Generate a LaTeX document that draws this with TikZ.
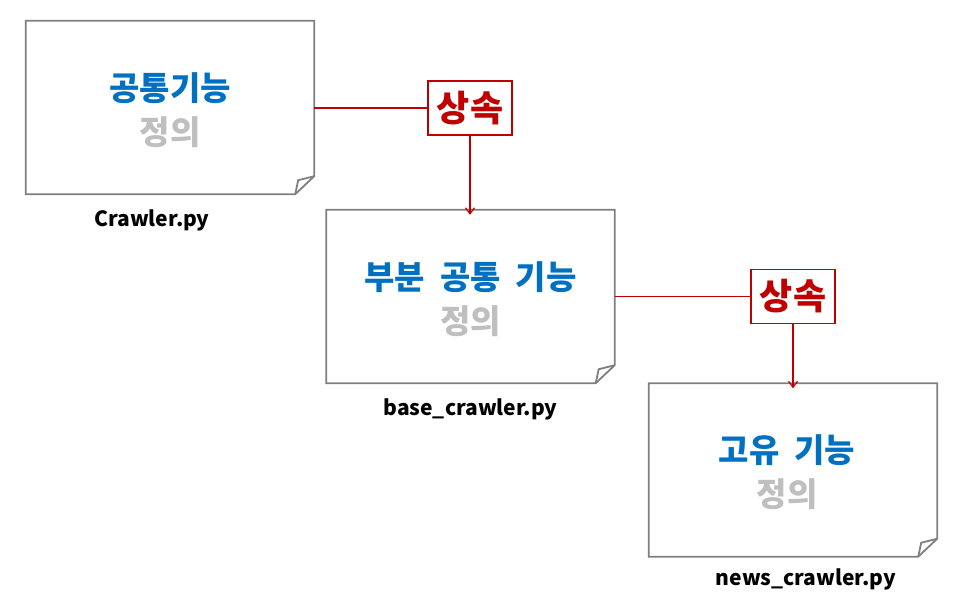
\documentclass[tikz,border=0pt]{standalone}
\usepackage{fontspec}
\setmainfont{Noto Sans CJK KR}
\usetikzlibrary{positioning,calc,arrows.meta}
\definecolor{cblue}{HTML}{0070C0}
\definecolor{cgray}{HTML}{BFBFBF}
\definecolor{cred}{HTML}{C00000}
\definecolor{cline}{HTML}{7F7F7F}

\begin{document}
\begin{tikzpicture}[x=1pt,y=-1pt,>={Straight Barb[length=6pt,width=9pt]},
  note/.style={minimum width=288pt,minimum height=173pt,inner sep=0pt,align=center,
    font=\fontsize{33}{44}\selectfont\bfseries},
  inherit/.style={draw=cred,line width=1.8pt,fill=white,minimum width=84pt,minimum height=54pt,
    inner sep=0pt,text=cred,font=\fontsize{36}{40}\selectfont\bfseries},
  fname/.style={font=\fontsize{21}{24}\selectfont\bfseries,inner sep=0pt},
  link/.style={cred,line width=1.2pt}]
  \useasboundingbox (0,0) rectangle (960,600);
  % notes
  \node[note] (crawler) at (170,110) {\textcolor{cblue}{공통기능}\\\textcolor{cgray}{정의}};
  \node[note] (base) at (470.5,299) {\textcolor{cblue}{부분\ \ 공통\ \ 기능}\\\textcolor{cgray}{정의}};
  \node[note] (news) at (793,472.5) {\textcolor{cblue}{고유\ \ 기능}\hspace*{12pt}\\\textcolor{cgray}{정의}\hspace*{12pt}};
  \foreach \n in {crawler,base,news} {
    \draw[cline,line width=1.8pt,line join=miter]
      ($(\n.north west)+(0,-2.5)$) -- ($(\n.north east)+(0,-2.5)$) -- ($(\n.south east)+(0,-20.5)$)
      -- ($(\n.south east)+(-19,-2.5)$) -- ($(\n.south west)+(0,-2.5)$) -- cycle;
    \draw[cline,line width=1.8pt]
      ($(\n.south east)+(0,-20.5)$) -- ($(\n.south east)+(-16,-16.5)$) -- ($(\n.south east)+(-19,-2.5)$);
  }
  % file names
  \node[fname,below=13pt of crawler.south,xshift=-18pt] (crawlerpy) {Crawler.py};
  \node[fname,below=13pt of base.south] (basepy) {base\_crawler.py};
  \node[fname,below=9pt of news.south,xshift=13pt] (newspy) {news\_crawler.py};
  % inheritance
  \node[inherit] (inh1) at (470,108) {상속};
  \node[inherit] (inh2) at (793,296.5) {상속};
  \draw[link] (crawler.east |- inh1) -- (inh1.west);
  \draw[link,->] (inh1.south) -- ($(inh1.south |- base.north)+(0,2.5)$);
  \draw[link] (base.east |- inh2) -- (inh2.west);
  \draw[link,->] (inh2.south) -- ($(inh2.south |- news.north)+(0,2.5)$);
\end{tikzpicture}
\end{document}
